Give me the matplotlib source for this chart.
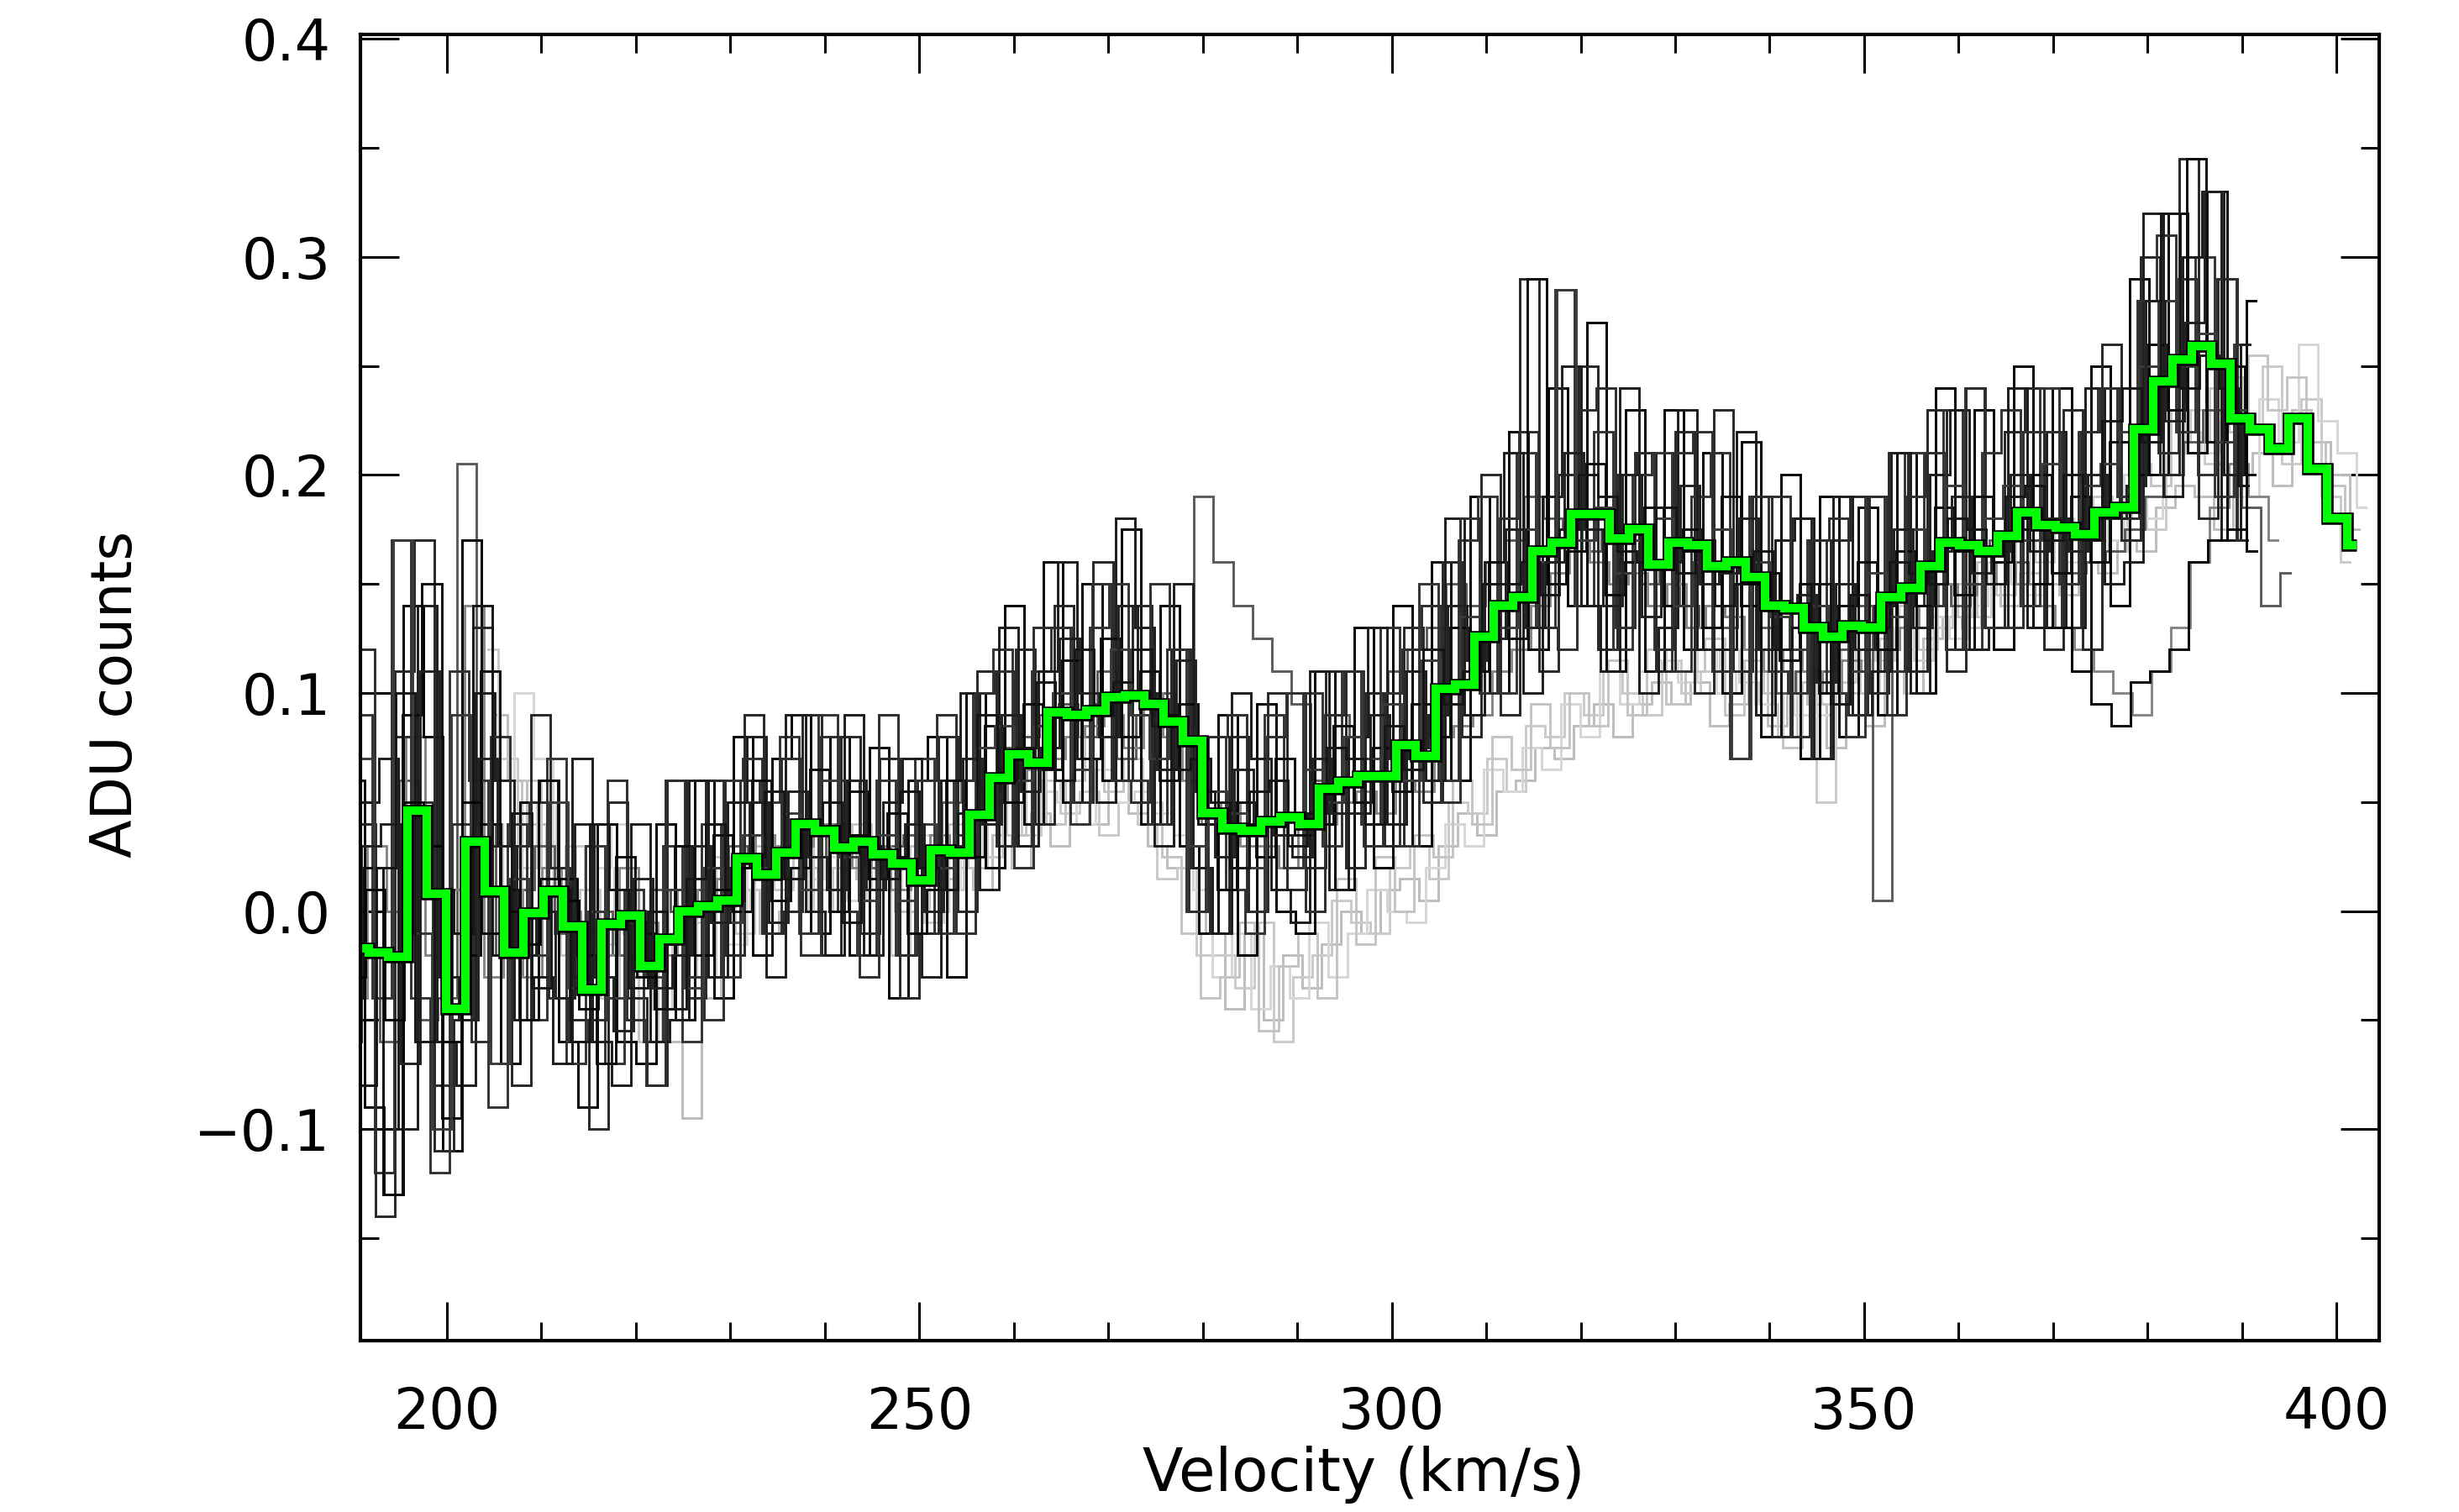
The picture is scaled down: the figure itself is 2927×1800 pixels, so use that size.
import numpy as np
import matplotlib
matplotlib.use("Agg")
import matplotlib.pyplot as plt
from matplotlib.ticker import MultipleLocator, FixedLocator, FuncFormatter

plt.rcParams['font.family'] = ['DejaVu Sans']

# ---------------- data (ADU counts in milli-ADU, i.e. value/1000) ----------------
vel_first = 190.69      # km/s, centre of first velocity bin
vel_step = 2.0527       # km/s per velocity bin

mean_spectrum = [-17,-19,-21,46,8,-45,32,9,-19,-1,9,-7,-36,-6,-2,-25,-13,0,2,5,24,17,27,
 40,37,29,32,26,22,14,28,27,44,61,72,68,91,90,92,98,99,95,87,78,45,
 38,37,41,43,40,56,59,62,62,76,71,102,104,126,140,144,165,169,182,182,171,175,
 159,169,168,158,160,153,140,139,130,126,131,130,144,148,158,169,168,165,172,183,177,176,
 173,183,185,221,243,253,259,251,226,221,212,226,203,180,168]

dark_02 = [-40,20,-130,90,150,-95,-20,110,
 10,-50,60,15,-20,-70,25,-10,-45,30,-20,35,0,60,5,
 20,65,0,55,15,45,-10,10,60,25,85,50,95,65,115,70,125,80,110,60,95,40,
 10,50,25,70,35,40,85,50,75,55,95,80,130,110,160,125,290,150,165,205,145,160,
 185,140,175,130,190,140,155,115,150,100,140,160,120,165,140,185,145,190,160,175,200,155,
 190,160,215,200,260,230,345,215,250,200]
dark_03 = [-90,70,-20,170,-10,-100,90,30,
 -70,15,-20,50,-35,0,-40,-5,-30,10,-35,20,-5,35,20,
 45,10,60,25,5,35,5,40,20,35,75,85,60,85,100,65,95,120,90,70,85,30,
 55,45,20,60,45,65,50,80,70,95,60,115,95,135,150,130,175,160,285,170,185,155,
 170,180,140,160,175,70,160,135,120,140,125,110,155,135,175,160,195,150,180,195,170,205,
 175,195,205,220,250,280,250,265,215,230]
dark_04 = [-60,30,40,-70,110,-30,-50,70,
 30,-20,0,-40,40,-30,-55,15,-35,-20,30,-5,20,50,-5,
 55,25,10,60,10,25,40,0,30,70,40,90,55,75,125,100,80,140,100,65,115,55,
 25,65,40,35,25,70,45,45,90,70,75,90,140,115,125,175,130,160,210,175,140,200,
 135,160,195,150,155,180,120,140,145,105,150,120,140,175,130,165,190,155,165,200,165,180,
 165,200,180,195,280,225,270,330,200,225]
dark_05 = [40,-80,20,100,-60,10,-10,140,
 -20,45,-35,10,-60,40,10,-35,0,-45,15,40,5,25,55,
 15,40,50,-5,30,15,55,20,10,45,90,60,75,105,60,120,90,105,120,85,65,70,
 50,20,55,60,30,45,75,70,40,85,65,120,95,110,150,150,160,145,175,200,190,165,
 160,185,155,170,140,150,165,120,130,150,95,145,130,160,155,150,180,175,150,190,195,170,
 200,170,225,240,215,320,240,255,240,195]
dark_07 = [-30,10,-50,50,30,-60,50,-10,
 0,-15,15,5,-45,-5,0,-30,-15,0,0,10,20,15,25,
 40,35,30,35,25,25,15,30,25,45,60,70,70,90,90,90,100,100,95,90,80,45,
 40,40,40,45,40,55,60,60,60,75,70,100,105,125,140,145,165,170,180,180,170,175,
 160,170,165,160,160,150,140,140,130,125,130,130,145,150,160,170,165,165,170,180,150,130,
 110,95,85,105,110,120,160,170,175,165]
dark_08 = [60,-90,-130,140,80,-110,170,40,
 -70,50,60,-60,-90,40,-60,-70,40,-50,60,-40,80,-20,70,
 90,-10,80,-20,75,-40,60,80,-30,100,20,140,40,160,50,150,60,175,40,140,30,-10,
 90,-20,95,0,-10,110,10,130,20,140,30,160,60,190,100,220,120,240,140,270,110,230,
 110,230,120,210,100,215,80,200,70,190,80,185,90,210,100,240,120,230,120,250,130,240,
 110,250,140,290,200,320,210,330,170,280]
dark_09 = [-60,40,-140,110,170,-110,-50,130,
 30,-80,90,20,-50,-100,50,-40,-80,60,-40,60,-20,90,-10,
 0,90,-20,80,-10,70,-40,-10,80,0,110,30,120,40,140,50,160,60,140,40,120,20,
 -10,80,0,100,10,20,110,20,100,30,130,50,160,80,200,90,290,110,200,250,120,200,
 210,110,220,100,230,110,190,80,180,70,170,190,100,210,110,230,110,240,130,220,240,120,
 230,120,260,170,300,200,345,180,290,170]
dark_11 = [-120,90,-40,170,-40,-120,110,60,
 -90,40,-50,70,-70,30,-70,10,-60,30,-60,40,-30,60,50,
 80,-10,90,0,-20,60,-20,70,-10,60,100,120,30,110,130,40,130,150,60,40,120,0,
 80,10,-10,90,20,100,30,110,40,130,30,150,60,170,190,100,210,130,285,140,220,120,
 200,210,110,190,210,70,190,110,100,170,100,80,190,110,210,140,230,120,210,230,140,240,
 150,220,240,190,280,310,220,300,190,260]
dark_13 = [-90,50,70,-100,140,-60,-80,100,
 60,-50,-30,-70,70,-60,-80,40,-60,-50,60,-30,50,80,-30,
 90,0,-20,90,-20,50,70,-30,60,100,10,130,30,110,160,70,50,180,130,30,150,20,
 -10,100,70,10,-5,110,10,80,130,40,110,60,180,90,160,210,100,190,250,140,110,240,
 100,130,230,120,120,220,90,170,180,70,190,90,110,210,100,200,230,120,130,240,130,220,
 130,240,150,160,320,190,300,330,170,260]
dark_15 = [-50,120,-120,80,50,-80,40,-60,
 80,30,50,-40,-60,-50,60,-50,-80,60,-30,-50,60,70,-10,
 70,-20,80,60,-30,90,-20,60,90,-10,100,110,20,130,130,50,150,60,50,150,120,0,
 80,90,0,80,100,0,90,110,30,100,120,140,50,180,100,180,220,130,120,230,240,130,
 210,120,210,220,110,110,190,190,80,170,180,90,190,90,190,210,120,240,130,130,220,220,
 130,220,240,180,280,210,290,200,290,170]

mid_01 = [20,-20,-60,60,-50,-40,205,40,
 -20,10,30,-10,-30,0,-20,-30,10,0,10,20,30,25,20,
 30,25,40,30,20,30,35,20,50,60,55,75,80,90,95,80,110,70,90,100,85,190,
 160,140,125,110,95,60,90,80,100,110,120,130,150,140,160,170,190,180,175,165,175,160,
 150,160,140,130,130,150,130,100,110,110,120,140,5,150,160,150,140,165,170,160,150,170,
 155,160,165,175,190,200,215,230,200,185,140,155]
mid_02 = [-40,30,0,80,-20,10,140,-30,
 10,-30,20,0,-10,-20,20,-5,-20,10,0,15,20,35,30,
 30,40,35,20,30,10,20,35,30,45,50,60,65,70,80,85,90,75,100,80,60,40,
 50,30,30,20,45,40,50,55,45,60,55,80,85,90,110,120,140,155,170,160,150,155,
 140,150,130,140,135,120,110,120,110,100,115,110,120,130,140,150,145,150,160,150,140,130,
 120,110,100,90,110,130,160,185,205,190,170]

light_01 = [90,60,40,10,30,-20,0,-10,-30,-60,-95,-40,-20,10,-10,0,
 20,10,30,15,25,0,-10,15,20,10,35,20,45,30,50,40,60,45,30,20,0,-10,
 -45,-10,-50,-20,-35,-15,0,-10,10,15,5,30,45,35,55,60,75,70,85,95,80,95,
 105,95,105,85,95,110,85,100,95,75,100,85,110,100,125,135,130,150,140,155,150,145,
 160,155,170,165,185,195,190,175,200,210,195,230,215,200,175]
light_02 = [120,70,20,50,0,30,-15,20,-20,-45,-10,-5,25,0,10,20,
 0,35,20,5,10,30,20,-5,10,40,25,50,35,60,45,55,35,50,40,15,20,-20,
 -20,-35,-5,-60,-30,-20,5,-5,-10,20,30,15,50,45,70,55,85,80,100,90,110,100,
 90,115,100,110,120,105,95,80,110,50,105,120,115,130,115,130,150,135,165,150,165,170,
 170,185,165,190,175,210,230,205,245,220,250,205,235,190,160]
light_03 = [60,100,70,0,-10,20,40,-20,10,-10,-30,0,-15,30,5,15,
 15,25,5,25,10,20,35,10,25,20,50,30,55,50,40,65,50,55,45,35,10,-30,
 -10,-45,-25,-40,-5,-30,-10,10,0,-5,20,40,30,65,55,75,65,95,80,110,95,110,
 115,105,120,100,110,95,110,90,90,100,115,110,130,120,135,125,140,160,150,145,170,160,
 185,170,200,180,200,220,210,225,190,235,215,260,225,210,185]
light_04 = [40,10,60,20,-20,10,-40,0,-60,-20,10,-30,20,-10,30,10,
 30,0,20,40,10,-20,30,0,40,20,60,35,70,40,60,80,55,70,50,25,-10,-40,
 -30,-5,-55,-25,-10,-40,15,-15,25,0,35,25,60,40,80,65,95,75,100,85,115,90,
 120,95,110,125,90,115,100,75,105,95,120,100,125,140,120,150,135,160,145,170,160,180,
 175,190,180,205,195,230,215,240,220,255,230,245,215,195,170]

dark_spectra = [dark_08, dark_09, dark_11, dark_13, dark_15,
                dark_02, dark_03, dark_04, dark_05, dark_07]
dark_shift = [-0.4, -1.3, -1.7, -1.0, -1.45, -0.5, -1.5, -0.75, -1.25, -0.35]
mid_spectra = [mid_01, mid_02]
mid_shift = [-0.9, -0.15]
light_spectra = [light_01, light_02, light_03, light_04]
light_shift = [0.3, -0.7, 1.0, -0.2]
light_first_bin = 7   # light spectra start 7 bins after vel_first

# ---------------- styles ----------------
dark_colors = ['#000000', '#262626', '#333333', '#1c1c1c', '#2e2e2e',
               '#0a0a0a', '#3a3a3a', '#202020', '#151515', '#050505']
mid_colors = ['#5a5a5a', '#858585']
light_colors = ['#bdbdbd', '#cacaca', '#d6d6d6', '#c4c4c4']
thin_lw = 2.1
FS = 48


def velocities(n, shift, first_bin=0):
    return vel_first + shift + vel_step * (first_bin + np.arange(n))


fig = plt.figure(figsize=(29.27, 18), dpi=100)
ax = fig.add_axes([0.1467, 0.1133, 0.8208, 0.8639])

for spec, sh, c in zip(light_spectra, light_shift, light_colors):
    ax.step(velocities(len(spec), sh, light_first_bin), np.array(spec) / 1000.0,
            where='mid', color=c, lw=thin_lw, solid_joinstyle='miter')
for spec, sh, c in zip(mid_spectra, mid_shift, mid_colors):
    ax.step(velocities(len(spec), sh), np.array(spec) / 1000.0,
            where='mid', color=c, lw=thin_lw, solid_joinstyle='miter')
for spec, sh, c in zip(dark_spectra, dark_shift, dark_colors):
    ax.step(velocities(len(spec), sh), np.array(spec) / 1000.0,
            where='mid', color=c, lw=thin_lw, solid_joinstyle='miter')

mv = velocities(len(mean_spectrum), 0.0)
my = np.array(mean_spectrum) / 1000.0
ax.step(mv, my, where='mid', color='black', lw=10.5, solid_joinstyle='miter',
        solid_capstyle='butt')
ax.step(mv, my, where='mid', color='#00ff00', lw=7.2, solid_joinstyle='miter',
        solid_capstyle='butt')

ax.set_xlim(190.88, 404.5)
ax.set_ylim(-0.197, 0.402)

ax.xaxis.set_major_locator(FixedLocator([200, 250, 300, 350, 400]))
ax.xaxis.set_minor_locator(MultipleLocator(10))
ax.yaxis.set_major_locator(FixedLocator([-0.1, 0.0, 0.1, 0.2, 0.3, 0.4]))
ax.yaxis.set_minor_locator(MultipleLocator(0.05))
ax.yaxis.set_major_formatter(FuncFormatter(
    lambda v, p: ('%.1f' % v).replace('-', '\u2212') if abs(v) > 1e-9 else '0.0'))

ax.tick_params(which='both', direction='in', top=True, right=True,
               width=2.2, labelsize=FS, color='black')
ax.tick_params(which='major', length=33)
ax.tick_params(which='minor', length=16)
ax.tick_params(axis='x', which='major', pad=38)
ax.tick_params(axis='y', which='major', pad=26)
for s in ax.spines.values():
    s.set_linewidth(3.0)

fig.text(0.5545, 0.025, 'Velocity (km/s)', ha='center', va='center', fontsize=FS + 3)
fig.text(0.047, 0.541, 'ADU counts', ha='center', va='center', rotation=90, fontsize=FS)

fig.savefig('out.png', dpi=100)
